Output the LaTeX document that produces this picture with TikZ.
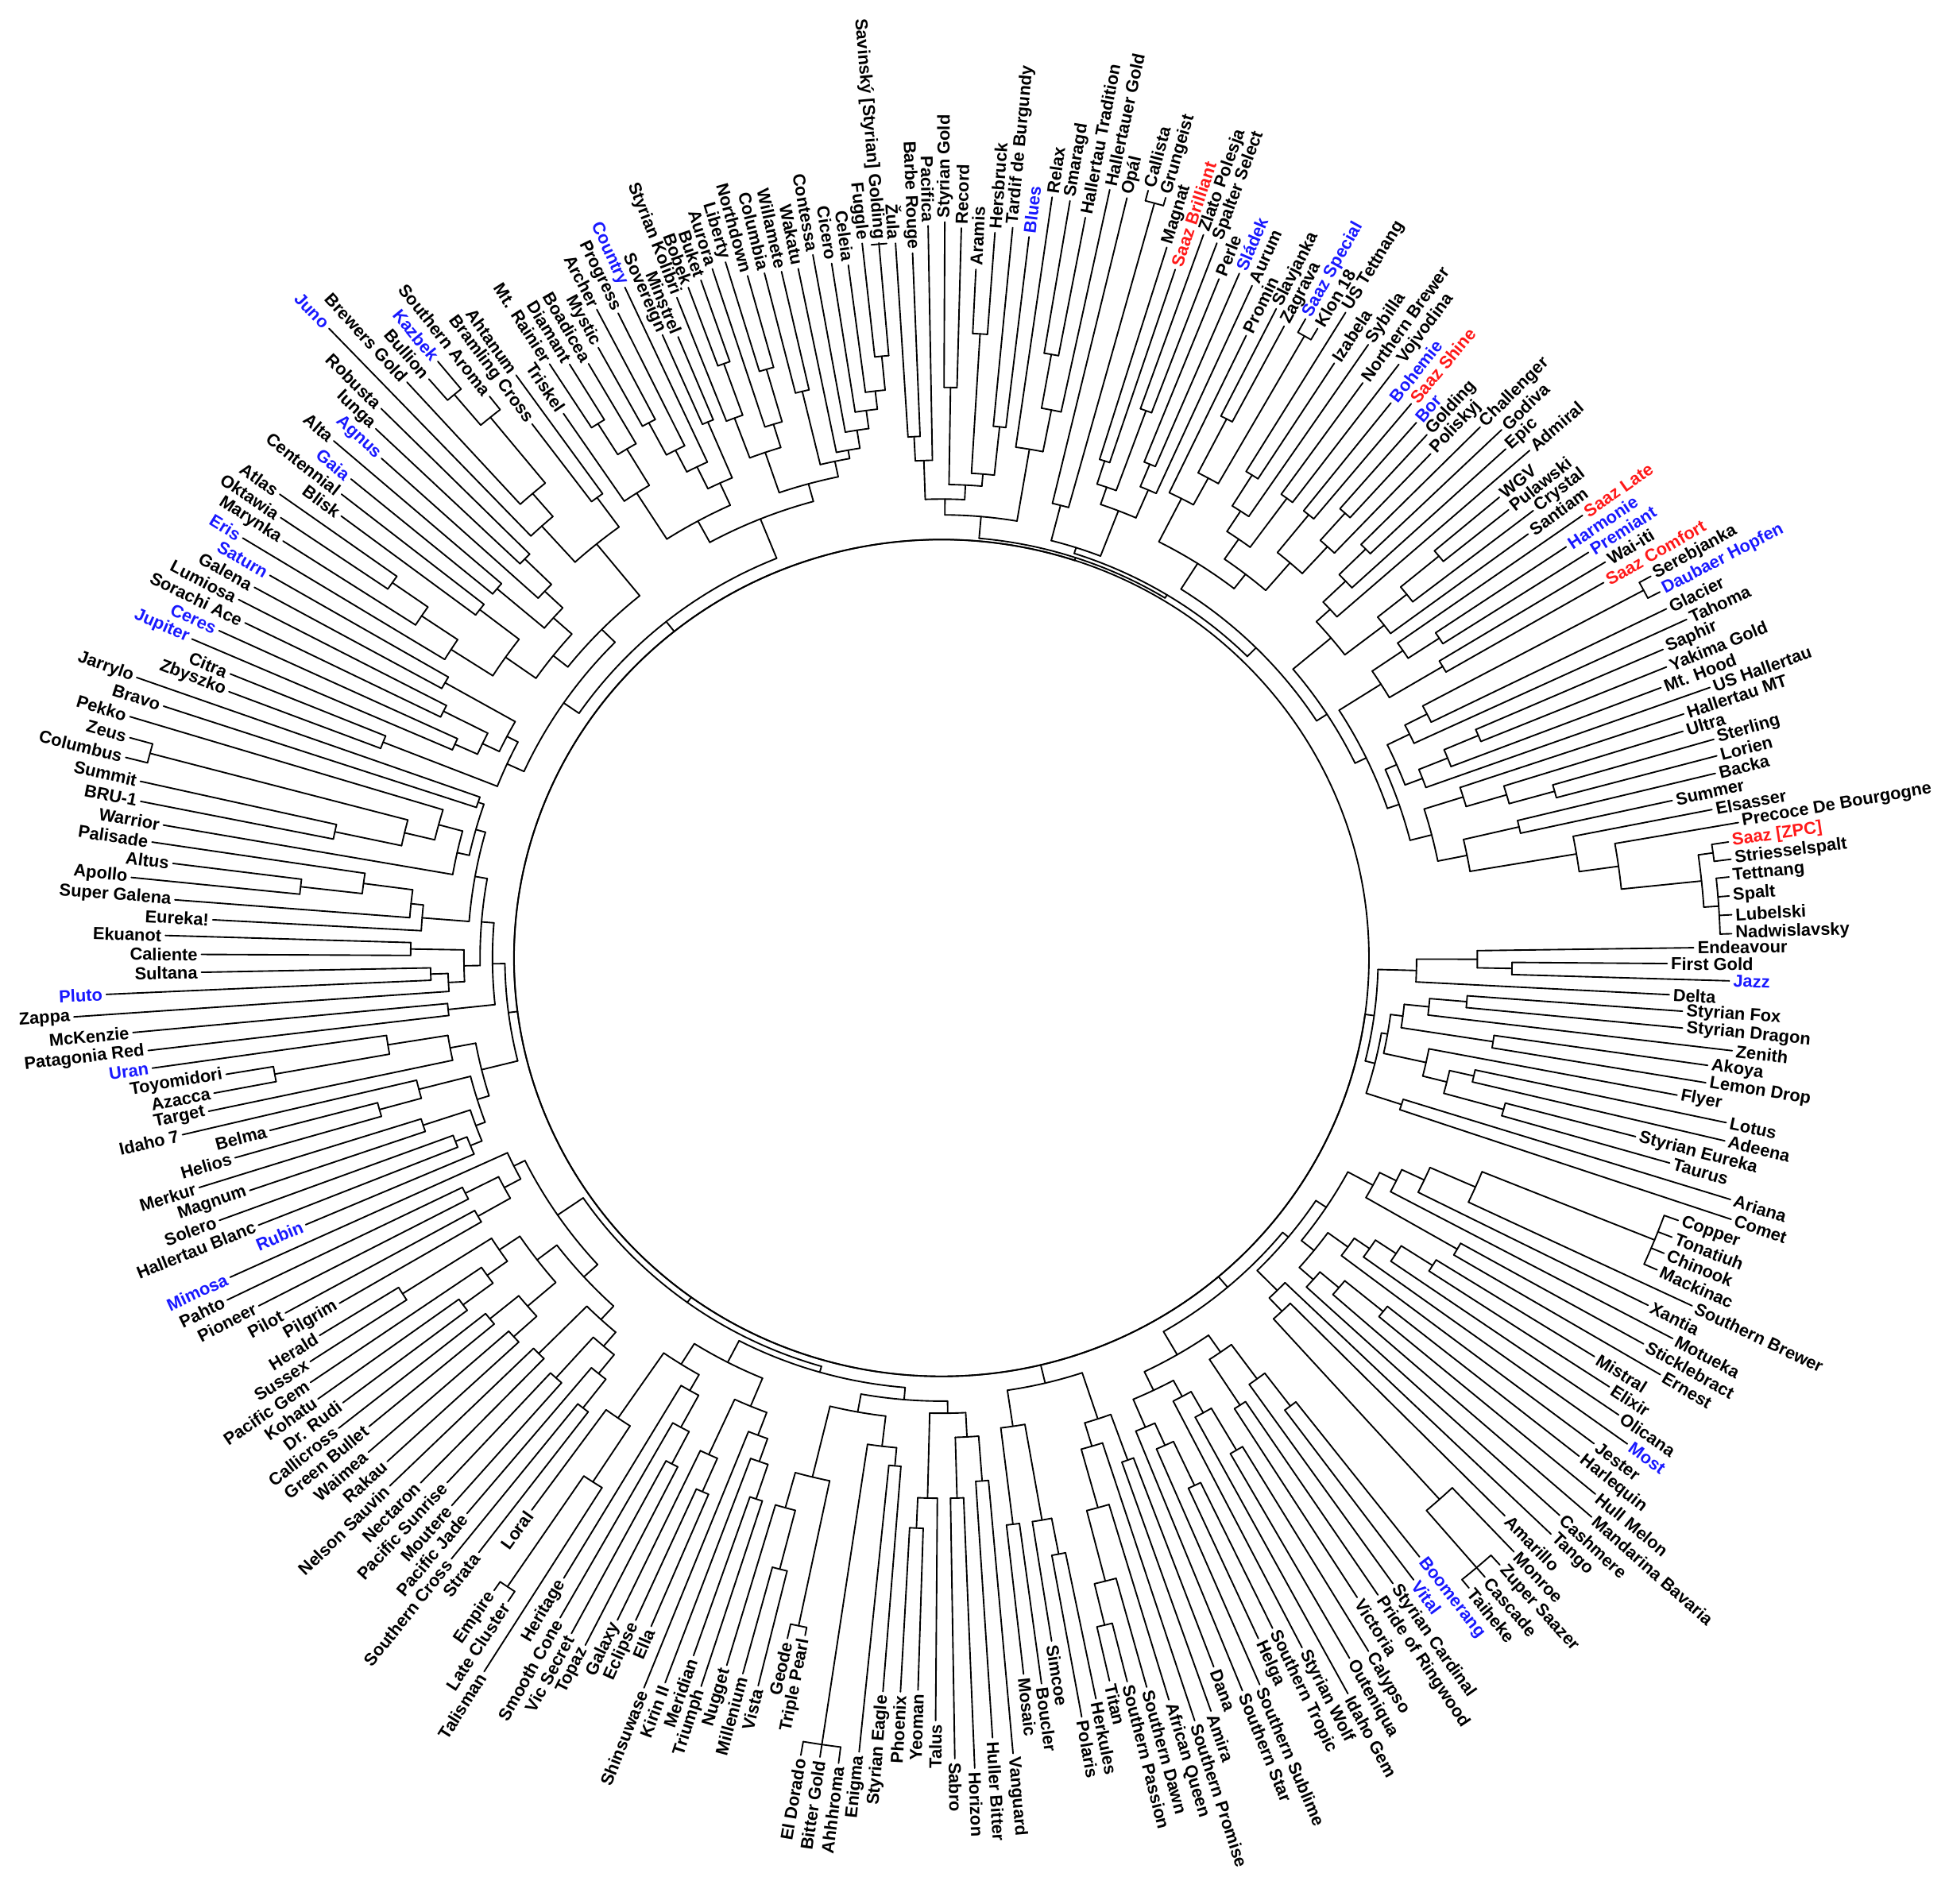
\documentclass[tikz,border=0pt]{standalone}
\usepackage{fontspec}
\setmainfont{Liberation Sans}
\definecolor{cK}{RGB}{0,0,0}
\definecolor{cB}{RGB}{25,25,255}
\definecolor{cR}{RGB}{255,25,25}
\tikzset{br/.style={line width=1.2pt,line cap=round,line join=round},
 lbl/.style={font=\fontsize{14}{16}\selectfont\bfseries,inner sep=0pt}}
\newcommand\segS[4]{\gdef\sgi{#1}\gdef\sga{#2}\pgfmathsetmacro\tmps{(#4-#2)/(#3-#1)}\global\let\sgs\tmps}
\newcommand\leafL[5]{%
 \pgfmathsetmacro\xLa{\sga+(#1-\sgi)*\sgs}%
 \pgfmathsetmacro\xLr{100*veclen((#2-759)/100,(772.5-#3)/97.9)}%
 \pgfmathsetmacro\xLt{\xLr+3}%
 \expandafter\xdef\csname P@#1\endcsname{\xLa}%
 \expandafter\xdef\csname R@#1\endcsname{\xLr}%
 \def\xFl{0}\ifdim\xLa pt>90pt\relax\ifdim\xLa pt<270pt\relax\def\xFl{1}\fi\fi
 \if1\xFl
  \pgfmathsetmacro\xRo{\xLa+180}%
  \node[lbl,text=c#4,rotate=\xRo,anchor=east] (n#1) at (\xLa:\xLt pt) {#5};%
 \else
  \node[lbl,text=c#4,rotate=\xLa,anchor=west] (n#1) at (\xLa:\xLt pt) {#5};%
 \fi}
\newcommand\cladeC[3]{%
 \gdef\clf{}%
 \foreach \ch in {#3}{%
  \edef\angc{\csname P@\ch\endcsname}%
  \edef\radc{\csname R@\ch\endcsname}%
  \draw[br] (\angc:#2pt) -- (\angc:\radc pt);%
  \ifx\clf\empty\xdef\clf{\ch}\fi
  \xdef\cll{\ch}%
 }%
 \edef\angA{\csname P@\clf\endcsname}%
 \edef\angB{\csname P@\cll\endcsname}%
 \draw[br] (\angA:#2pt) arc[start angle=\angA, end angle=\angB, radius=#2pt];%
 \pgfmathsetmacro\angM{(\angA+\angB)/2}%
 \expandafter\xdef\csname P@#1\endcsname{\angM}%
 \expandafter\xdef\csname R@#1\endcsname{#2}%
}
\begin{document}
\begin{tikzpicture}[x=1pt,y=1pt]
\useasboundingbox (0,0) rectangle (1568,1535);
\fill[white] (0,0) rectangle (1568,1535);
\begin{scope}[shift={(759,762.5)},yscale=0.979]
\segS{1}{1.8}{4}{6.0}
\leafL{1}{1396}{752}{K}{Nadwislavsky}
\leafL{2}{1396}{737}{K}{Lubelski}
\leafL{3}{1394}{722.5}{K}{Spalt}
\segS{4}{6.0}{10}{13.7}
\leafL{4}{1394}{708.6}{K}{Tettnang}
\leafL{5}{1395.7}{694.7}{K}{Striesselspalt}
\leafL{6}{1394}{682.5}{R}{Saaz [ZPC]}
\leafL{7}{1402}{666.8}{K}{Precoce De Bourgogne}
\leafL{8}{1380.6}{654.8}{K}{Elsasser}
\leafL{9}{1348.6}{647.8}{K}{Summer}
\segS{10}{13.7}{16}{21.0}
\leafL{10}{1383.7}{627}{K}{Backa}
\leafL{11}{1385}{613}{K}{Lorien}
\leafL{12}{1382}{597.5}{K}{Sterling}
\leafL{13}{1357.7}{592.3}{K}{Ultra}
\leafL{14}{1357.7}{576.6}{K}{Hallertau MT}
\leafL{15}{1379}{555.8}{K}{US Hallertau}
\segS{16}{21.0}{22}{28.8}
\leafL{16}{1338}{552}{K}{Mt. Hood}
\leafL{17}{1341}{532}{K}{Yakima Gold}
\leafL{18}{1340}{522}{K}{Saphir}
\leafL{19}{1360}{500}{K}{Tahoma}
\leafL{20}{1344}{492}{K}{Glacier}
\leafL{21}{1338}{477}{B}{Daubaer Hopfen}
\segS{22}{28.8}{27}{35.2}
\leafL{22}{1331}{465}{K}{Serebjanka}
\leafL{23}{1293}{470}{R}{Saaz Comfort}
\leafL{24}{1294}{453}{K}{Wai-iti}
\leafL{25}{1281}{446}{B}{Premiant}
\leafL{26}{1263}{441.6}{B}{Harmonie}
\segS{27}{35.2}{32}{41.4}
\leafL{27}{1276}{416}{R}{Saaz Late}
\leafL{28}{1232}{430.6}{K}{Santiam}
\leafL{29}{1237}{413}{K}{Crystal}
\leafL{30}{1216}{411}{K}{Pulawski}
\leafL{31}{1207}{399}{K}{WGV}
\segS{32}{41.4}{35}{45.2}
\leafL{32}{1233}{363}{K}{Admiral}
\leafL{33}{1213}{361}{K}{Epic}
\leafL{34}{1209}{345}{K}{Godiva}
\segS{35}{45.2}{40}{51.6}
\leafL{35}{1193}{344}{K}{Challenger}
\leafL{36}{1152}{364.6}{K}{Poliskyj}
\leafL{37}{1148.6}{349}{K}{Golding}
\leafL{38}{1141}{340}{B}{Bor}
\leafL{39}{1136.6}{324.6}{R}{Saaz Shine}
\segS{40}{51.6}{45}{58.5}
\leafL{40}{1121}{324.6}{B}{Bohemie}
\leafL{41}{1126.6}{293}{K}{Vojvodina}
\leafL{42}{1099}{309}{K}{Northern Brewer}
\leafL{43}{1104.7}{279}{K}{Sybilla}
\leafL{44}{1079}{295}{K}{Izabela}
\segS{45}{58.5}{50}{64.4}
\leafL{45}{1090}{255}{K}{US Tettnang}
\leafL{46}{1066}{267}{K}{Klon 18}
\leafL{47}{1055}{258.6}{B}{Saaz Special}
\leafL{48}{1037}{264}{K}{Zagrava}
\leafL{49}{1031}{250}{K}{Slavjanka}
\segS{50}{64.4}{53}{68.2}
\leafL{50}{1005.6}{271}{K}{Promin}
\leafL{51}{1011}{231}{K}{Aurum}
\leafL{52}{998}{220}{B}{Sládek}
\segS{53}{68.2}{58}{73.9}
\leafL{53}{983}{225}{K}{Perle}
\leafL{54}{981}{196}{K}{Spalter Select}
\leafL{55}{968}{188.5}{K}{Zlato Polesja}
\leafL{56}{948}{217.5}{R}{Saaz Brilliant}
\leafL{57}{939}{199}{K}{Magnat}
\segS{58}{73.9}{61}{77.9}
\leafL{58}{942}{160}{K}{Grungeist}
\leafL{59}{929.7}{154.7}{K}{Callista}
\leafL{60}{910}{160}{K}{Opál}
\segS{61}{77.9}{64}{81.9}
\leafL{61}{895}{153}{K}{Hallertauer Gold}
\leafL{62}{878}{176}{K}{Hallertau Tradition}
\leafL{63}{863}{162}{K}{Smaragd}
\segS{64}{81.9}{68}{87.2}
\leafL{64}{848.6}{159}{K}{Relax}
\leafL{65}{834}{191.5}{B}{Blues}
\leafL{66}{821}{184}{K}{Tardif de Burgundy}
\leafL{67}{808}{188}{K}{Hersbruck}
\segS{68}{87.2}{72}{92.3}
\leafL{68}{793.6}{217.6}{K}{Aramis}
\leafL{69}{781}{184}{K}{Record}
\leafL{70}{766}{179}{K}{Styrian Gold}
\leafL{71}{751}{182}{K}{Pacifica}
\segS{72}{92.3}{77}{98.8}
\leafL{72}{738.5}{204}{K}{Barbe Rouge}
\leafL{73}{724}{196}{K}{Žula}
\leafL{74}{707}{196}{K}{Savinský [Styrian] Golding}
\leafL{75}{697}{196}{K}{Fuggle}
\leafL{76}{690}{213}{K}{Celeia}
\segS{77}{98.8}{83}{106.9}
\leafL{77}{680}{211}{K}{Cicero}
\leafL{78}{658}{205}{K}{Contessa}
\leafL{79}{646.6}{216}{K}{Wakatu}
\leafL{80}{630}{219}{K}{Willamete}
\leafL{81}{615}{220.5}{K}{Columbia}
\leafL{82}{604}{222}{K}{Northdown}
\segS{83}{106.9}{90}{114.8}
\leafL{83}{586}{211}{K}{Liberty}
\leafL{84}{576.6}{216}{K}{Aurora}
\leafL{85}{562}{227}{K}{Buket}
\leafL{86}{549}{234}{K}{Bobek}
\leafL{87}{533}{245}{K}{Styrian Kolibri}
\leafL{88}{527}{280}{K}{Minstrel}
\leafL{89}{508}{282}{K}{Sovereign}
\segS{90}{114.8}{97}{124.2}
\leafL{90}{503.4}{231.9}{B}{Country}
\leafL{91}{500}{251.7}{K}{Progress}
\leafL{92}{483.4}{248.3}{K}{Archer}
\leafL{93}{487}{277.8}{K}{Mystic}
\leafL{94}{477.8}{291.4}{K}{Boadicea}
\leafL{95}{463}{291.4}{K}{Diamant}
\leafL{96}{446.4}{291.4}{K}{Mt. Rainier}
\segS{97}{124.2}{104}{133.6}
\leafL{97}{459.6}{329.9}{K}{Triskel}
\leafL{98}{418.9}{300.4}{K}{Ahtanum}
\leafL{99}{433.6}{338.5}{K}{Bramling Cross}
\leafL{100}{397.1}{317.7}{K}{Southern Aroma}
\leafL{101}{354.8}{289.9}{B}{Kazbek}
\leafL{102}{343.8}{307.3}{K}{Bullion}
\leafL{103}{329}{307.3}{K}{Brewers Gold}
\segS{104}{133.6}{110}{141.7}
\leafL{104}{264.5}{265.6}{B}{Juno}
\leafL{105}{308.7}{327.9}{K}{Robusta}
\leafL{106}{304.9}{343.8}{K}{Iunga}
\leafL{107}{310.6}{366.4}{B}{Agnus}
\leafL{108}{270.3}{354.2}{K}{Alta}
\leafL{109}{285}{383.7}{B}{Gaia}
\segS{110}{141.7}{116}{149.8}
\leafL{110}{277.3}{395.8}{K}{Centennial}
\leafL{111}{277.3}{413.1}{K}{Blisk}
\leafL{112}{226.1}{397.6}{K}{Atlas}
\leafL{113}{228}{414.9}{K}{Oktawia}
\leafL{114}{229.7}{434}{K}{Marynka}
\leafL{115}{196.6}{432.3}{B}{Eris}
\segS{116}{149.8}{121}{156.5}
\leafL{116}{218.7}{461.8}{B}{Saturn}
\leafL{117}{205.9}{472}{K}{Galena}
\leafL{118}{192.8}{482.6}{K}{Lumiosa}
\leafL{119}{198.6}{500}{K}{Sorachi Ace}
\leafL{120}{176.5}{508.6}{B}{Ceres}
\segS{121}{156.5}{125}{161.7}
\leafL{121}{154.4}{515.6}{B}{Jupiter}
\leafL{122}{186.9}{540.2}{K}{Citra}
\leafL{123}{185.3}{555.8}{K}{Zbyszko}
\leafL{124}{108.8}{550}{K}{Jarrylo}
\segS{125}{161.7}{131}{170.1}
\leafL{125}{131.7}{569.7}{K}{Bravo}
\leafL{126}{104}{580}{K}{Pekko}
\leafL{127}{104}{597}{K}{Zeus}
\leafL{128}{101}{612}{K}{Columbus}
\leafL{129}{113.4}{628.7}{K}{Summit}
\leafL{130}{113.4}{646}{K}{BRU-1}
\segS{131}{170.1}{137}{178.3}
\leafL{131}{131.7}{665}{K}{Warrior}
\leafL{132}{122.5}{679}{K}{Palisade}
\leafL{133}{139.4}{696}{K}{Altus}
\leafL{134}{105.7}{708.4}{K}{Apollo}
\leafL{135}{141}{725}{K}{Super Galena}
\leafL{136}{171.6}{740.9}{K}{Eureka!}
\segS{137}{178.3}{143}{186.8}
\leafL{137}{133.3}{754.4}{K}{Ekuanot}
\leafL{138}{162.4}{770}{K}{Caliente}
\leafL{139}{162.4}{785}{K}{Sultana}
\leafL{140}{85.8}{803.8}{B}{Pluto}
\leafL{141}{59.7}{821.4}{K}{Zappa}
\leafL{142}{107.2}{833.5}{K}{McKenzie}
\segS{143}{186.8}{149}{194.7}
\leafL{143}{119.5}{847.4}{K}{Patagonia Red}
\leafL{144}{122.5}{859.6}{B}{Uran}
\leafL{145}{182.3}{866.6}{K}{Toyomidori}
\leafL{146}{173}{884}{K}{Azacca}
\leafL{147}{168.5}{897.8}{K}{Target}
\leafL{148}{147}{915}{K}{Idaho 7}
\segS{149}{194.7}{155}{203.2}
\leafL{149}{217.5}{911.5}{K}{Belma}
\leafL{150}{190}{935.8}{K}{Helios}
\leafL{151}{160.8}{958.6}{K}{Merkur}
\leafL{152}{202}{962}{K}{Magnum}
\leafL{153}{177.7}{986.4}{K}{Solero}
\leafL{154}{209.8}{991.5}{K}{Hallertau Blanc}
\segS{155}{203.2}{161}{211.8}
\leafL{155}{246.6}{988}{B}{Rubin}
\leafL{156}{186.9}{1033}{B}{Mimosa}
\leafL{157}{183.8}{1049.8}{K}{Pahto}
\leafL{158}{209.6}{1055}{K}{Pioneer}
\leafL{159}{229.8}{1058.4}{K}{Pilot}
\leafL{160}{273.9}{1051.5}{K}{Pilgrim}
\segS{161}{211.8}{167}{219.9}
\leafL{161}{259}{1079}{K}{Herald}
\leafL{162}{250}{1098}{K}{Sussex}
\leafL{163}{251.8}{1117}{K}{Pacific Gem}
\leafL{164}{257}{1129}{K}{Kohatu}
\leafL{165}{277.6}{1132.7}{K}{Dr. Rudi}
\leafL{166}{275.7}{1155}{K}{Callicross}
\segS{167}{219.9}{173}{228.8}
\leafL{167}{301.5}{1155}{K}{Green Bullet}
\leafL{168}{299.6}{1174}{K}{Waimea}
\leafL{169}{314.3}{1181}{K}{Rakau}
\leafL{170}{314.3}{1198.4}{K}{Nelson Sauvin}
\leafL{171}{340}{1196.6}{K}{Nectaron}
\leafL{172}{360}{1195}{K}{Pacific Sunrise}
\segS{173}{228.8}{179}{236.6}
\leafL{173}{364}{1214}{K}{Moutere}
\leafL{174}{376.8}{1220.8}{K}{Pacific Jade}
\leafL{175}{362}{1255.6}{K}{Southern Cross}
\leafL{176}{386}{1252}{K}{Strata}
\leafL{177}{428.3}{1217.4}{K}{Loral}
\leafL{178}{399}{1283}{K}{Empire}
\segS{179}{236.6}{185}{244.4}
\leafL{179}{411.8}{1293}{K}{Late Cluster}
\leafL{180}{391.5}{1348.7}{K}{Talisman}
\leafL{181}{457.7}{1274.4}{K}{Heritage}
\leafL{182}{455.9}{1307}{K}{Smooth Cone}
\leafL{183}{465}{1319.5}{K}{Vic Secret}
\leafL{184}{478}{1329.7}{K}{Topaz}
\segS{185}{244.4}{191}{252.1}
\leafL{185}{496}{1305.6}{K}{Galaxy}
\leafL{186}{518}{1309}{K}{Eclipse}
\leafL{187}{531}{1314}{K}{Ella}
\leafL{188}{527.6}{1364.3}{K}{Shinsuwase}
\leafL{189}{542}{1359}{K}{Kirin II}
\leafL{190}{568}{1338}{K}{Meridian}
\segS{191}{252.1}{197}{260.2}
\leafL{191}{571}{1361.6}{K}{Triumph}
\leafL{192}{597}{1346}{K}{Nugget}
\leafL{193}{609.8}{1352.4}{K}{Millenium}
\leafL{194}{620.8}{1361.6}{K}{Vista}
\leafL{195}{644.7}{1323.3}{K}{Geode}
\leafL{196}{657.6}{1320.4}{K}{Triple Pearl}
\segS{197}{260.2}{203}{268.2}
\leafL{197}{652}{1416.4}{K}{El Dorado}
\leafL{198}{668.7}{1418}{K}{Bitter Gold}
\leafL{199}{683.4}{1422.7}{K}{Ahhhroma}
\leafL{200}{700}{1413.4}{K}{Enigma}
\leafL{201}{720}{1364.6}{K}{Styrian Eagle}
\leafL{202}{733}{1364.6}{K}{Phoenix}
\segS{203}{268.2}{209}{276.4}
\leafL{203}{747.7}{1363}{K}{Yeoman}
\leafL{204}{760.6}{1387.4}{K}{Talus}
\leafL{205}{775.3}{1418}{K}{Sabro}
\leafL{206}{790}{1425.6}{K}{Horizon}
\leafL{207}{804.7}{1401}{K}{Huller Bitter}
\leafL{208}{823}{1413.4}{K}{Vanguard}
\segS{209}{276.4}{215}{284.1}
\leafL{209}{830.4}{1349.4}{K}{Mosaic}
\leafL{210}{845}{1357}{K}{Boucler}
\leafL{211}{856}{1322}{K}{Simcoe}
\leafL{212}{880}{1383}{K}{Polaris}
\leafL{213}{894.8}{1367.5}{K}{Herkules}
\leafL{214}{900.3}{1354}{K}{Titan}
\segS{215}{284.1}{221}{291.9}
\leafL{215}{916.8}{1354}{K}{Southern Passion}
\leafL{216}{931.5}{1358.5}{K}{Southern Dawn}
\leafL{217}{948}{1369}{K}{African Queen}
\leafL{218}{968}{1386}{K}{Southern Promise}
\leafL{219}{984.8}{1376.8}{K}{Amira}
\leafL{220}{984.8}{1341.8}{K}{Dana}
\segS{221}{291.9}{227}{299.7}
\leafL{221}{1005}{1362}{K}{Southern Star}
\leafL{222}{1012}{1360}{K}{Southern Sublime}
\leafL{223}{1018.5}{1319.5}{K}{Helga}
\leafL{224}{1031}{1310.6}{K}{Southern Tropic}
\leafL{225}{1055}{1326}{K}{Styrian Wolf}
\leafL{226}{1090}{1364}{K}{Idaho Gem}
\segS{227}{299.7}{233}{308.0}
\leafL{227}{1091.8}{1335}{K}{Outeniqua}
\leafL{228}{1106.5}{1329.7}{K}{Calypso}
\leafL{229}{1099}{1285}{K}{Victoria}
\leafL{230}{1115.7}{1283}{K}{Pride of Ringwood}
\leafL{231}{1126.6}{1274.4}{K}{Styrian Cardinal}
\leafL{232}{1141.3}{1272.7}{B}{Vital}
\segS{233}{308.0}{239}{316.0}
\leafL{233}{1146.8}{1253.6}{B}{Boomerang}
\leafL{234}{1185.4}{1279.6}{K}{Taiheke}
\leafL{235}{1198}{1271}{K}{Cascade}
\leafL{236}{1209}{1262}{K}{Zuper Saazer}
\leafL{237}{1222}{1250}{K}{Monroe}
\leafL{238}{1212.9}{1222.6}{K}{Amarillo}
\segS{239}{316.0}{245}{324.1}
\leafL{239}{1251.3}{1236}{K}{Tango}
\leafL{240}{1256.8}{1222.6}{K}{Cashmere}
\leafL{241}{1282.5}{1224}{K}{Mandarina Bavaria}
\leafL{242}{1286}{1205}{K}{Hull Melon}
\leafL{243}{1271.5}{1176}{K}{Harlequin}
\leafL{244}{1284}{1165.6}{K}{Jester}
\segS{245}{324.1}{251}{332.0}
\leafL{245}{1310}{1167}{B}{Most}
\leafL{246}{1304.6}{1141.4}{K}{Olicana}
\leafL{247}{1297}{1119}{K}{Elixir}
\leafL{248}{1286}{1093}{K}{Mistral}
\leafL{249}{1337.6}{1110}{K}{Ernest}
\leafL{250}{1324.8}{1084}{K}{Sticklebract}
\segS{251}{332.0}{257}{340.0}
\leafL{251}{1348.6}{1079}{K}{Motueka}
\leafL{252}{1328.4}{1053}{K}{Xantia}
\leafL{253}{1363.2}{1055}{K}{Southern Brewer}
\leafL{254}{1335}{1026}{K}{Mackinac}
\leafL{255}{1341}{1012}{K}{Chinook}
\leafL{256}{1347}{1000}{K}{Tonatiuh}
\segS{257}{340.0}{263}{347.9}
\leafL{257}{1351.5}{988}{K}{Copper}
\leafL{258}{1394}{988}{K}{Comet}
\leafL{259}{1394}{970.7}{K}{Ariana}
\leafL{260}{1345.5}{939.5}{K}{Taurus}
\leafL{261}{1318}{918.7}{K}{Styrian Eureka}
\leafL{262}{1390}{922}{K}{Adeena}
\segS{263}{347.9}{269}{355.8}
\leafL{263}{1391}{908}{K}{Lotus}
\leafL{264}{1351.5}{885.7}{K}{Flyer}
\leafL{265}{1374.5}{876.8}{K}{Lemon Drop}
\leafL{266}{1375.8}{864.7}{K}{Akoya}
\leafL{267}{1396}{851}{K}{Zenith}
\leafL{268}{1356}{833.6}{K}{Styrian Dragon}
\segS{269}{355.8}{273}{360.8}
\leafL{269}{1356}{819.7}{K}{Styrian Fox}
\leafL{270}{1345.5}{805.8}{K}{Delta}
\leafL{271}{1394}{795.4}{B}{Jazz}
\leafL{272}{1344}{779.7}{K}{First Gold}
\leafL{273}{1365.4}{765.8}{K}{Endeavour}
% tick at the tip of Savinsky [Styrian] Golding
\edef\tkA{\csname P@74\endcsname}\edef\tkR{\csname R@74\endcsname}
\pgfmathsetmacro\tkAa{\tkA-0.6}\pgfmathsetmacro\tkAb{\tkA+0.6}\pgfmathsetmacro\tkRr{\tkR-1}
\draw[br] (\tkAa:\tkRr pt) arc[start angle=\tkAa,end angle=\tkAb,radius=\tkRr pt];
% ---- clades: upper right
\cladeC{R5}{628}{1,2,3,4}
\cladeC{R6}{628}{5,6}
\cladeC{R7}{616}{R5,R6}
\cladeC{R8}{551}{R7,7}
\cladeC{R9}{519}{R8,8}
\cladeC{R4}{478}{9,10}
\cladeC{R10}{432}{R9,R4}
\cladeC{R1}{513}{11,12}
\cladeC{R2}{475}{R1,13}
\cladeC{R3}{441}{R2,14}
\cladeC{R11}{408}{R10,R3}
\cladeC{Q33}{470}{17,18}
\cladeC{Q34}{440}{16,Q33}
\cladeC{Q35}{415}{15,Q34}
\cladeC{Q30}{642}{21,22}
\cladeC{Q31}{440}{20,Q30}
\cladeC{Q32}{420}{19,Q31}
\cladeC{Q36}{400}{Q35,Q32}
\cladeC{R12}{390}{R11,Q36}
\cladeC{Q28}{470}{23,24}
\cladeC{Q26}{480}{25,26}
\cladeC{Q27}{450}{Q26,27}
\cladeC{Q29}{420}{Q28,Q27}
\cladeC{S2}{380}{R12,Q29}
\cladeC{Q23}{520}{30,31}
\cladeC{Q24}{480}{29,Q23}
\cladeC{Q25}{450}{28,Q24}
\cladeC{Q20}{480}{34,35}
\cladeC{Q21}{450}{33,Q20}
\cladeC{Q22}{425}{32,Q21}
\cladeC{S1}{410}{Q25,Q22}
\cladeC{S3}{370}{S2,S1}
\cladeC{Q16}{490}{37,38}
\cladeC{Q17}{460}{36,Q16}
\cladeC{Q15}{470}{39,40}
\cladeC{Q18}{430}{Q17,Q15}
\cladeC{Q13}{470}{41,42}
\cladeC{Q11}{470}{44,45}
\cladeC{Q12}{440}{43,Q11}
\cladeC{Q14}{420}{Q13,Q12}
\cladeC{Q19}{400}{Q18,Q14}
\cladeC{Q7}{590}{46,47}
\cladeC{Q8}{500}{48,49}
\cladeC{Q9}{450}{Q7,Q8}
\cladeC{Q10}{425}{Q9,50}
\cladeC{S4}{385}{Q19,Q10}
\cladeC{S5}{360}{S3,S4}
\cladeC{Q4}{440}{52,53}
\cladeC{Q5}{420}{51,Q4}
\cladeC{Q2}{480}{54,55}
\cladeC{Q1}{430}{56,57}
\cladeC{Q3}{410}{Q2,Q1}
\cladeC{Q6}{395}{Q5,Q3}
\cladeC{P13}{645}{58,59}
\cladeC{P14}{385}{P13,60}
\cladeC{S6}{355}{Q6,P14}
\cladeC{S7}{350}{S5,S6}
% ---- top
\cladeC{P9}{505}{62,63}
\cladeC{P10}{460}{61,P9}
\cladeC{P11}{425}{P10,64}
\cladeC{P5}{440}{65,66}
\cladeC{P4}{515}{67,68}
\cladeC{P6}{400}{P5,P4}
\cladeC{P1}{470}{69,70}
\cladeC{P7}{390}{P6,P1}
\cladeC{P2}{430}{72,73}
\cladeC{P3}{410}{71,P2}
\cladeC{P8}{378}{P7,P3}
\cladeC{P12}{365}{P11,P8}
\cladeC{T1}{347}{S7,P12}
% ---- top left
\cladeC{N1}{498}{74,75}
\cladeC{N2}{470}{N1,76}
\cladeC{N3}{455}{N2,77}
\cladeC{N4}{440}{N3,78}
\cladeC{N5}{425}{N4,79}
\cladeC{N6}{480}{80,81}
\cladeC{N7}{418}{N5,N6}
\cladeC{N8}{505}{82,83}
\cladeC{N9}{460}{N8,84}
\cladeC{N10}{520}{85,86}
\cladeC{N11}{475}{N10,87}
\cladeC{N12}{440}{N9,N11}
\cladeC{N13}{405}{N7,N12}
\cladeC{O7}{480}{88,89}
\cladeC{O4}{500}{92,93}
\cladeC{O5}{470}{91,O4}
\cladeC{O6}{450}{90,O5}
\cladeC{O8}{430}{O7,O6}
\cladeC{O1}{520}{95,96}
\cladeC{O2}{490}{94,O1}
\cladeC{O3}{455}{O2,97}
\cladeC{O9}{410}{O8,O3}
\cladeC{O10}{390}{N13,O9}
\cladeC{M5}{470}{98,99}
\cladeC{M1}{608}{101,102}
\cladeC{M2}{575}{100,M1}
\cladeC{M3}{505}{M2,103}
\cladeC{M4}{480}{M3,104}
\cladeC{M6}{440}{M5,M4}
\cladeC{M7}{470}{105,106}
\cladeC{M8}{440}{M7,107}
\cladeC{M9}{470}{108,109}
\cladeC{M10}{420}{M8,M9}
\cladeC{M14}{470}{110,111}
\cladeC{M11}{540}{112,113}
\cladeC{M12}{505}{M11,114}
\cladeC{M13}{470}{M12,115}
\cladeC{M15}{430}{M14,M13}
\cladeC{M22}{400}{M10,M15}
\cladeC{M23}{385}{M6,M22}
\cladeC{M16}{460}{116,117}
\cladeC{M17}{450}{118,119}
\cladeC{M18}{430}{120,121}
\cladeC{M19}{410}{M17,M18}
\cladeC{M20}{395}{M16,M19}
\cladeC{L1}{484}{122,123}
\cladeC{M21}{385}{M20,L1}
\cladeC{M24}{370}{M23,M21}
\cladeC{T2}{355}{O10,M24}
% ---- left
\cladeC{K14}{395}{124,125}
\cladeC{K9}{660}{127,128}
\cladeC{K10}{500}{129,130}
\cladeC{K11}{445}{K9,K10}
\cladeC{K12}{420}{126,K11}
\cladeC{K13}{400}{K12,131}
\cladeC{K15}{390}{K14,K13}
\cladeC{K5}{520}{133,134}
\cladeC{K6}{470}{132,K5}
\cladeC{K7}{430}{K6,135}
\cladeC{K8}{420}{K7,136}
\cladeC{K16}{382}{K15,K8}
\cladeC{K3}{428}{137,138}
\cladeC{K1}{412}{139,140}
\cladeC{K2}{398}{K1,141}
\cladeC{K4}{385}{K3,K2}
\cladeC{K17}{372}{K16,K4}
\cladeC{J12}{400}{142,143}
\cladeC{K18}{362}{K17,J12}
\cladeC{J8}{546}{145,146}
\cladeC{J9}{452}{144,J8}
\cladeC{J10}{403}{J9,147}
\cladeC{J1}{470}{149,150}
\cladeC{J2}{435}{148,J1}
\cladeC{J3}{440}{151,152}
\cladeC{J4}{420}{153,154}
\cladeC{J5}{410}{J4,155}
\cladeC{J6}{400}{J3,J5}
\cladeC{J7}{392}{J2,J6}
\cladeC{J11}{382}{J10,J7}
\cladeC{T3}{352}{K18,J11}
% ---- bottom left
\cladeC{I16}{430}{157,158}
\cladeC{I17}{430}{159,160}
\cladeC{I18}{400}{I16,I17}
\cladeC{I19}{385}{156,I18}
\cladeC{I12}{515}{161,162}
\cladeC{I10}{480}{164,165}
\cladeC{I11}{450}{163,I10}
\cladeC{I13}{430}{I12,I11}
\cladeC{I8}{470}{166,167}
\cladeC{I7}{465}{168,169}
\cladeC{I9}{440}{I8,I7}
\cladeC{I14}{410}{I13,I9}
\cladeC{I5}{460}{170,171}
\cladeC{I3}{465}{172,173}
\cladeC{I1}{470}{175,176}
\cladeC{I2}{440}{174,I1}
\cladeC{I4}{420}{I3,I2}
\cladeC{I6}{405}{I5,I4}
\cladeC{I15}{390}{I14,I6}
\cladeC{I20}{375}{I19,I15}
\cladeC{H10}{625}{178,179}
\cladeC{H11}{515}{H10,180}
\cladeC{H12}{460}{177,H11}
\cladeC{H7}{470}{183,184}
\cladeC{H8}{440}{182,H7}
\cladeC{H9}{410}{181,H8}
\cladeC{H13}{395}{H12,H9}
\cladeC{H4}{480}{186,187}
\cladeC{H5}{450}{185,H4}
\cladeC{H1}{470}{190,191}
\cladeC{H2}{440}{189,H1}
\cladeC{H3}{420}{188,H2}
\cladeC{H6}{400}{H5,H3}
\cladeC{H14}{375}{H13,H6}
\cladeC{G11}{520}{193,194}
\cladeC{G12}{470}{192,G11}
\cladeC{G10}{562}{195,196}
\cladeC{G13}{440}{G12,G10}
\cladeC{G8}{655}{197,198,199}
\cladeC{G7}{420}{200,201}
\cladeC{G9}{405}{G8,G7}
\cladeC{G14}{380}{G13,G9}
\cladeC{G4}{470}{202,203}
\cladeC{G5}{445}{G4,204}
\cladeC{G2}{445}{205,206}
\cladeC{G1}{432}{207,208}
\cladeC{G3}{395}{G2,G1}
\cladeC{G6}{375}{G5,G3}
\cladeC{G15}{365}{G14,G6}
\cladeC{H16}{355}{H14,G15}
\cladeC{T4}{350}{I20,H16}
% ---- bottom right
\cladeC{F3}{470}{209,210}
\cladeC{F1}{500}{212,213}
\cladeC{F2}{470}{211,F1}
\cladeC{F4}{390}{F3,F2}
\cladeC{E1}{565}{214,215}
\cladeC{E2}{530}{E1,216}
\cladeC{E3}{470}{E2,217}
\cladeC{E4}{420}{E3,218}
\cladeC{E5}{440}{219,220}
\cladeC{E6}{400}{E4,E5}
\cladeC{T5}{360}{F4,E6}
\cladeC{D8}{480}{223,224}
\cladeC{D9}{440}{222,D8}
\cladeC{D10}{420}{221,D9}
\cladeC{D5}{470}{227,228}
\cladeC{D6}{430}{226,D5}
\cladeC{D7}{410}{225,D6}
\cladeC{D11}{395}{D10,D7}
\cladeC{D3}{440}{229,230}
\cladeC{D1}{464}{232,233}
\cladeC{D2}{430}{231,D1}
\cladeC{D4}{395}{D3,D2}
\cladeC{D12}{378}{D11,D4}
\cladeC{C1}{662}{234,235,236}
\cladeC{C2}{600}{C1,237}
\cladeC{C3}{400}{C2,238}
\cladeC{C4}{385}{C3,239}
\cladeC{B11}{460}{242,243}
\cladeC{B12}{420}{241,B11}
\cladeC{B13}{400}{240,B12}
\cladeC{B7}{470}{247,248}
\cladeC{B8}{440}{246,B7}
\cladeC{B9}{420}{245,B8}
\cladeC{B10}{405}{244,B9}
\cladeC{B14}{385}{B13,B10}
\cladeC{B5}{480}{249,250}
\cladeC{B1}{620}{254,255,256,257}
\cladeC{B2}{470}{253,B1}
\cladeC{B3}{430}{252,B2}
\cladeC{B4}{410}{251,B3}
\cladeC{B6}{395}{B5,B4}
\cladeC{B15}{372}{B14,B6}
\cladeC{C5}{362}{C4,B15}
\cladeC{T6}{356}{D12,C5}
\cladeC{A13}{390}{258,259}
\cladeC{A9}{470}{260,261}
\cladeC{A8}{440}{262,263}
\cladeC{A10}{420}{A9,A8}
\cladeC{A11}{400}{A10,264}
\cladeC{A6}{450}{265,266}
\cladeC{A4}{425}{268,269}
\cladeC{A5}{395}{267,A4}
\cladeC{A7}{375}{A6,A5}
\cladeC{A12}{365}{A11,A7}
\cladeC{A14}{360}{A13,A12}
\cladeC{A1}{460}{271,272}
\cladeC{A2}{432}{A1,273}
\cladeC{A3}{383}{270,A2}
\cladeC{A15}{352}{A14,A3}
\cladeC{root}{344.6}{T1,T2,T3,T4,T5,T6,A15}
\draw[br] (0,0) circle[radius=344.6pt];
\end{scope}
\end{tikzpicture}
\end{document}
